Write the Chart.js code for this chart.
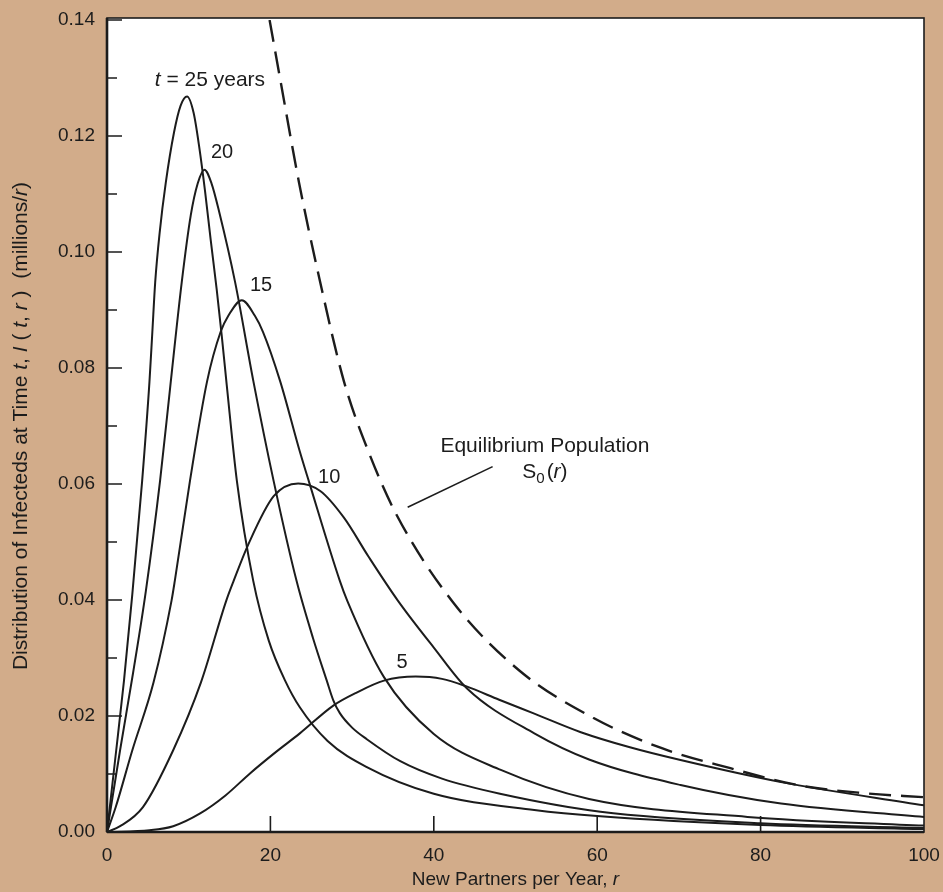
<!DOCTYPE html>
<html>
<head>
<meta charset="utf-8">
<script src="https://cdn.jsdelivr.net/npm/chart.js@4.4.1/dist/chart.umd.min.js"></script>
<style>
  html, body { margin: 0; padding: 0; background: #d2ac8a; }
  canvas { display: block; }
</style>
</head>
<body>
<canvas id="chartInfected" width="943" height="892"></canvas>
<script>
// new partners per year (r) and I(t, r) in millions/r
var r25 = [0, 1.0, 2.08, 3.1, 4.3, 5.2, 5.55, 5.9, 6.45, 7.2, 8.2, 9.0, 9.8, 10.6, 11.3, 12.0, 12.7, 13.43, 14.05, 14.66, 15.9, 17.9, 19.8, 21.8, 23.6, 27, 31.8, 40, 52.3, 60.4, 80, 100];
var i25 = [0, 0.0125, 0.0261, 0.041, 0.0605, 0.0777, 0.0862, 0.0948, 0.1034, 0.112, 0.1206, 0.1252, 0.1268, 0.124, 0.118, 0.1105, 0.102, 0.0935, 0.0855, 0.077, 0.0605, 0.0433, 0.033, 0.0261, 0.0215, 0.0157, 0.0112, 0.0066, 0.0038, 0.0027, 0.0012, 0.0005];

var r20 = [0, 1.6, 3.2, 4.75, 6.49, 7.72, 9.15, 10.25, 11.1, 11.92, 12.8, 13.75, 15.68, 17.92, 20.4, 23.2, 25.2, 26.9, 27.7, 28.5, 30, 31.8, 35.9, 41, 48.1, 60.4, 80, 100];
var i20 = [0, 0.0141, 0.0275, 0.0415, 0.0605, 0.0765, 0.0948, 0.1063, 0.1118, 0.1142, 0.1118, 0.1068, 0.0948, 0.0777, 0.0605, 0.0433, 0.0335, 0.0261, 0.0227, 0.0205, 0.018, 0.016, 0.0122, 0.0092, 0.0066, 0.0035, 0.0015, 0.0007];

var r15 = [0, 1.07, 3.1, 5.7, 7.9, 8.3, 10.15, 12.25, 13.9, 14.85, 16.5, 18.1, 19.1, 21.2, 23.6, 24.7, 28.5, 29.4, 33.9, 40, 48.2, 59, 78.4, 100];
var i15 = [0, 0.0043, 0.0141, 0.0258, 0.0399, 0.0433, 0.0605, 0.0777, 0.0862, 0.089, 0.0917, 0.089, 0.0862, 0.0777, 0.0656, 0.0605, 0.0433, 0.0399, 0.0267, 0.0169, 0.0107, 0.0057, 0.0026, 0.0011];

var r10 = [0, 1.6, 4.4, 8.1, 11.5, 14.6, 15.5, 17.3, 20.4, 23.4, 26.1, 29.0, 32, 35.6, 40, 44.1, 52.3, 59, 70.2, 82.5, 100];
var i10 = [0, 0.001, 0.0043, 0.0141, 0.0258, 0.0399, 0.0433, 0.0496, 0.0579, 0.0601, 0.0588, 0.0542, 0.0475, 0.0399, 0.0318, 0.0247, 0.017, 0.0125, 0.0081, 0.0049, 0.0026];

var r5 = [0, 5.2, 8.1, 11.4, 14.5, 17.5, 20.5, 23.6, 27.7, 30.5, 33.9, 37.8, 41, 44, 48, 52.3, 58, 64, 70.2, 82.5, 100];
var i5 = [0, 0.0003, 0.001, 0.0032, 0.0063, 0.0101, 0.0136, 0.017, 0.0218, 0.024, 0.0261, 0.0268, 0.0264, 0.0251, 0.0228, 0.0204, 0.0172, 0.0146, 0.0124, 0.0086, 0.0046];

// equilibrium population S0(r)
var rS0 = [19.9, 21.3, 23.5, 26.0, 29.0, 32.0, 35.4, 42.3, 50.5, 59.5, 68, 76.3, 84.5, 92.6, 100];
var iS0 = [0.14, 0.129, 0.112, 0.0954, 0.0777, 0.0656, 0.0548, 0.0397, 0.0278, 0.0197, 0.0144, 0.011, 0.0081, 0.0067, 0.006];

var xTicks = [0, 20, 40, 60, 80, 100];
var yTicks = [0.00, 0.02, 0.04, 0.06, 0.08, 0.10, 0.12, 0.14];

var FONT = "'Liberation Sans', Arial, Helvetica, sans-serif";
var INK = '#1c1c1c';

function toPoints(xs, ys) {
    var pts = [];
    for (var i = 0; i < xs.length; i++) {
        pts.push({ x: xs[i], y: ys[i] });
    }
    return pts;
}

function curve(label, xs, ys, dashed) {
    return {
        label: label,
        data: toPoints(xs, ys),
        borderColor: INK,
        borderWidth: dashed ? 2.4 : 2,
        borderDash: dashed ? [22, 10] : [],
        pointRadius: 0,
        fill: false,
        cubicInterpolationMode: 'monotone'
    };
}

// text labels placed in data units (r, value)
var notes = [
    { at: [12.6, 0.1297], size: 21, parts: [{ s: 't', i: true }, { s: ' = 25 years' }] },
    { at: [14.08, 0.1172], size: 20, parts: [{ s: '20' }] },
    { at: [18.86, 0.0943], size: 20, parts: [{ s: '15' }] },
    { at: [27.2, 0.0612], size: 20, parts: [{ s: '10' }] },
    { at: [36.1, 0.0293], size: 20, parts: [{ s: '5' }] },
    { at: [53.6, 0.0666], size: 21, parts: [{ s: 'Equilibrium Population' }] },
    { at: [53.6, 0.062], size: 21, parts: [{ s: 'S' }, { s: '0', sub: true }, { s: '(' }, { s: 'r', i: true }, { s: ')' }] }
];
var leader = [[36.8, 0.056], [47.2, 0.063]];

function drawParts(ctx, parts, x, y, size) {
    var w = 0;
    parts.forEach(function (p) {
        ctx.font = (p.i ? 'italic ' : '') + (p.sub ? size * 0.72 : size) + 'px ' + FONT;
        w += ctx.measureText(p.s).width + (p.sub ? 2 : 0);
    });
    var cx = x - w / 2;
    ctx.textAlign = 'left';
    ctx.textBaseline = 'middle';
    parts.forEach(function (p) {
        ctx.font = (p.i ? 'italic ' : '') + (p.sub ? size * 0.72 : size) + 'px ' + FONT;
        ctx.fillText(p.s, cx, y + (p.sub ? size * 0.3 : 0));
        cx += ctx.measureText(p.s).width + (p.sub ? 2 : 0);
    });
}

var paperPlugin = {
    id: 'paper',
    beforeDraw: function (chart) {
        var ctx = chart.ctx, a = chart.chartArea;
        ctx.save();
        ctx.fillStyle = '#ffffff';
        ctx.fillRect(a.left, a.top - 2, a.right - a.left, a.bottom - a.top + 2);
        ctx.restore();
    },
    afterDatasetsDraw: function (chart) {
        var ctx = chart.ctx, a = chart.chartArea;
        var xs = chart.scales.x, ys = chart.scales.y;
        ctx.save();
        ctx.strokeStyle = INK;
        ctx.fillStyle = INK;

        // frame
        ctx.lineWidth = 1.6;
        ctx.strokeRect(a.left, a.top - 2, a.right - a.left, a.bottom - a.top + 2);
        ctx.lineWidth = 2.6;
        ctx.beginPath();
        ctx.moveTo(a.left, a.bottom);
        ctx.lineTo(a.right, a.bottom);
        ctx.moveTo(a.left, a.bottom);
        ctx.lineTo(a.left, a.top - 2);
        ctx.stroke();

        // inward ticks
        ctx.lineWidth = 1.6;
        ctx.beginPath();
        ys.ticks.forEach(function (t) {
            var py = ys.getPixelForValue(t.value);
            var major = Math.round(t.value * 100) % 2 === 0;
            ctx.moveTo(a.left, py);
            ctx.lineTo(a.left + (major ? 15 : 10), py);
        });
        xs.ticks.forEach(function (t) {
            if (t.value <= xs.min || t.value >= xs.max) return;
            var px = xs.getPixelForValue(t.value);
            ctx.moveTo(px, a.bottom);
            ctx.lineTo(px, a.bottom - 16);
        });
        ctx.stroke();

        // curve labels
        notes.forEach(function (n) {
            drawParts(ctx, n.parts, xs.getPixelForValue(n.at[0]), ys.getPixelForValue(n.at[1]), n.size);
        });
        ctx.lineWidth = 1.6;
        ctx.beginPath();
        ctx.moveTo(xs.getPixelForValue(leader[0][0]), ys.getPixelForValue(leader[0][1]));
        ctx.lineTo(xs.getPixelForValue(leader[1][0]), ys.getPixelForValue(leader[1][1]));
        ctx.stroke();

        // axis titles
        drawParts(ctx, [{ s: 'New Partners per Year, ' }, { s: 'r', i: true }], (a.left + a.right) / 2, a.bottom + 48, 19);
        ctx.translate(21, 426);
        ctx.rotate(-Math.PI / 2);
        drawParts(ctx, [
            { s: 'Distribution of Infecteds at Time ' }, { s: 't', i: true }, { s: ', ' },
            { s: 'I', i: true }, { s: ' ( ' }, { s: 't', i: true }, { s: ', ' }, { s: 'r', i: true },
            { s: ' )  (millions/' }, { s: 'r', i: true }, { s: ')' }
        ], 0, 0, 21);
        ctx.restore();
    }
};

new Chart('chartInfected', {
    type: 'line',
    data: {
        datasets: [
            curve('t = 25', r25, i25, false),
            curve('t = 20', r20, i20, false),
            curve('t = 15', r15, i15, false),
            curve('t = 10', r10, i10, false),
            curve('t = 5', r5, i5, false),
            curve('S0(r)', rS0, iS0, true)
        ]
    },
    options: {
        responsive: false,
        animation: false,
        layout: { padding: { top: 20, right: 19, left: 0, bottom: 0 } },
        plugins: { legend: { display: false }, tooltip: { enabled: false } },
        scales: {
            x: {
                type: 'linear',
                min: xTicks[0],
                max: xTicks[xTicks.length - 1],
                grid: { display: false, drawTicks: false },
                border: { display: false },
                afterFit: function (scale) {
                    scale.height = 60;
                    scale.paddingLeft = 0;
                    scale.paddingRight = 0;
                },
                ticks: {
                    stepSize: 20,
                    padding: 12,
                    color: INK,
                    font: { family: FONT, size: 19 }
                }
            },
            y: {
                type: 'linear',
                min: yTicks[0],
                max: yTicks[yTicks.length - 1],
                grid: { display: false, drawTicks: false },
                border: { display: false },
                afterFit: function (scale) {
                    scale.width = 107;
                    scale.paddingTop = 0;
                    scale.paddingBottom = 0;
                },
                ticks: {
                    stepSize: 0.01,
                    autoSkip: false,
                    padding: 12,
                    color: INK,
                    font: { family: FONT, size: 19 },
                    callback: function (value) {
                        var k = Math.round(value * 100);
                        return k % 2 === 0 ? (k / 100).toFixed(2) : '';
                    }
                }
            }
        }
    },
    plugins: [paperPlugin]
});
</script>
</body>
</html>
